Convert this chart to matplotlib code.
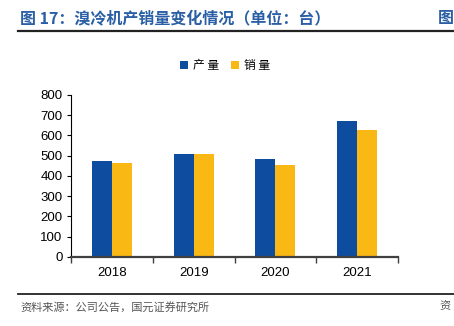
import numpy as np
import matplotlib.pyplot as plt
from matplotlib.lines import Line2D

plt.rcParams['font.family'] = ['Liberation Sans', 'Noto Sans CJK SC', 'DejaVu Sans']

# 溴冷机产销量（台）
years = ['2018', '2019', '2020', '2021']
production = [474, 510, 485, 670]
sales = [464, 510, 452, 625]

blue = '#0d4c9e'
yellow = '#f9b813'
cjk = ['Noto Sans CJK SC', 'DejaVu Sans']

fig = plt.figure(figsize=(4.54, 3.26), dpi=100)
ax = fig.add_axes([0.1564, 0.2117, 0.7203, 0.4969])

x = np.arange(len(years))
w = 0.245
ax.bar(x - w / 2, production, w, color=blue, label='产 量')
ax.bar(x + w / 2, sales, w, color=yellow, label='销 量')

ax.set_xlim(-0.5, len(years) - 0.5)
ax.set_ylim(0, 800)
ax.set_yticks(range(0, 801, 100))
ax.set_xticks(x)
ax.set_xticklabels(years)
ax.set_xticks(np.arange(-0.5, len(years), 1), minor=True)
ax.tick_params(axis='x', which='major', length=0, pad=7, labelsize=9.5)
ax.tick_params(axis='x', which='minor', length=4, width=1, color='#404040', direction='out')
ax.tick_params(axis='y', length=3, width=0.8, labelsize=9.5, pad=3)

for s in ['top', 'right']:
    ax.spines[s].set_visible(False)
ax.spines['bottom'].set_color('#404040')
ax.spines['bottom'].set_linewidth(1.6)
ax.spines['left'].set_linewidth(0.8)

leg = fig.legend(loc='center', bbox_to_anchor=(0.495, 0.798), ncol=2, frameon=False,
                 prop={'family': cjk, 'size': 8.5}, handlelength=0.7, handleheight=0.7,
                 handletextpad=0.4, columnspacing=1.0)

# 标题与来源
fig.text(0.044, 0.945, '图 17：溴冷机产销量变化情况（单位：台）', family=cjk, fontsize=11.5,
         fontweight='bold', color='#2a5fa5', va='center')
fig.text(0.965, 0.945, '图', family=cjk, fontsize=11.5, fontweight='bold',
         color='#2a5fa5', va='center')
fig.add_artist(Line2D([0.04, 1.0], [0.905, 0.905], color='#222222', lw=1.6))
fig.add_artist(Line2D([0.04, 1.0], [0.098, 0.098], color='#222222', lw=1.3))
fig.text(0.044, 0.058, '资料来源：公司公告，国元证券研究所', family=cjk, fontsize=8,
         color='#555555', va='center')
fig.text(0.968, 0.058, '资', family=cjk, fontsize=8, color='#555555', va='center')

fig.savefig('out.png', dpi=100)
